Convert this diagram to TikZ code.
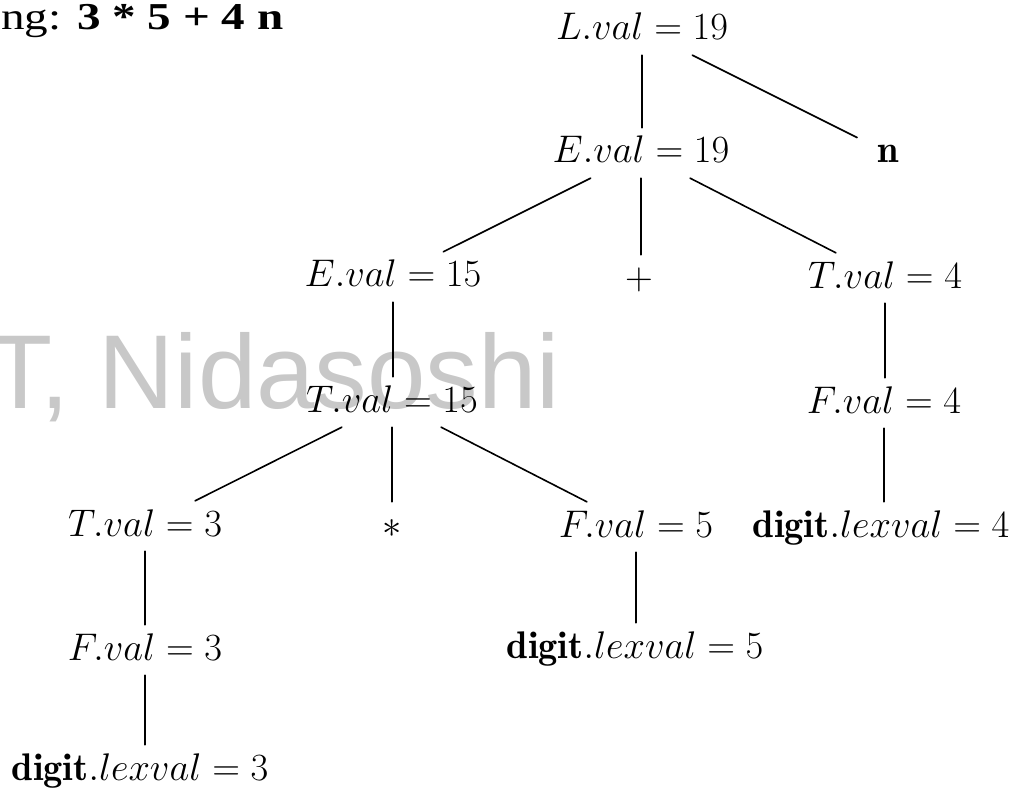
\RequirePackage{fix-cm}
\documentclass[tikz,border=0pt]{standalone}
\usepackage{graphicx}
\usepackage{fontspec}
\newfontfamily\timesfont{Liberation Serif}
\newfontfamily\wmfont{Liberation Sans}
\definecolor{wmgray}{RGB}{200,200,200}
\tikzset{
  lab/.style={anchor=base, text height=20pt, text depth=0pt, inner xsep=4pt, inner ysep=15pt,
    font=\fontsize{38.5}{40}\selectfont},
  edge/.style={line width=1.6pt, line cap=round}
}
\begin{document}
\begin{tikzpicture}[x=1pt,y=-1pt]
\useasboundingbox (0,0) rectangle (1025,794);
% watermark
\node[anchor=base west, inner sep=0pt, text=wmgray, font=\wmfont\fontsize{105}{105}\selectfont] (wm) at (-12,408) {T, Nidasoshi};
% title fragment
\node[anchor=base west, inner sep=0pt, font=\timesfont\fontsize{38}{40}\selectfont] (title) at (1,30) {\scalebox{1.24}[1]{ng: \textbf{3 * 5 + 4 n}}};
% tree nodes
\node[lab] (L)    at (642,40)  {$L.val = 19$};
\node[lab] (E19)  at (641,163) {$E.val = 19$};
\node[lab, inner xsep=20pt] (n) at (888,163) {$\mathbf{n}$};
\node[lab] (E15)  at (393,287) {$E.val = 15$};
\node[lab] (plus) at (639,290) {$+$};
\node[lab] (T4)   at (885,288) {$T.val = 4$};
\node[lab] (T15)  at (392,412) {$T.val = 15$};
\node[lab] (F4)   at (884,413) {$F.val = 4$};
\node[lab] (T3)   at (145,536) {$T.val = 3$};
\node[lab] (star) at (392,537) {$*$};
\node[lab] (F5)   at (636,537) {$F.val = 5$};
\node[lab] (d4)   at (881,537) {$\mathbf{digit}.lexval = 4$};
\node[lab] (F3)   at (145,660) {$F.val = 3$};
\node[lab] (d5)   at (635,658) {$\mathbf{digit}.lexval = 5$};
\node[lab] (d3)   at (140,780) {$\mathbf{digit}.lexval = 3$};
% connectors
\draw[edge] (L) -- (L |- E19.north);
\draw[edge] (L) -- (n);
\draw[edge] (E19) -- (E15);
\draw[edge] (E19) -- (E19 |- plus.north);
\draw[edge] (E19) -- (T4);
\draw[edge] (E15) -- (E15 |- T15.north);
\draw[edge] (T4) -- (T4 |- F4.north);
\draw[edge] (T15) -- (T3);
\draw[edge] (T15) -- (T15 |- star.north);
\draw[edge] (T15) -- (F5);
\draw[edge] (F4) -- (F4 |- d4.north);
\draw[edge] (T3) -- (T3 |- F3.north);
\draw[edge] (F5) -- (F5 |- d5.north);
\draw[edge] (F3) -- (F3 |- d3.north);
\end{tikzpicture}
\end{document}
